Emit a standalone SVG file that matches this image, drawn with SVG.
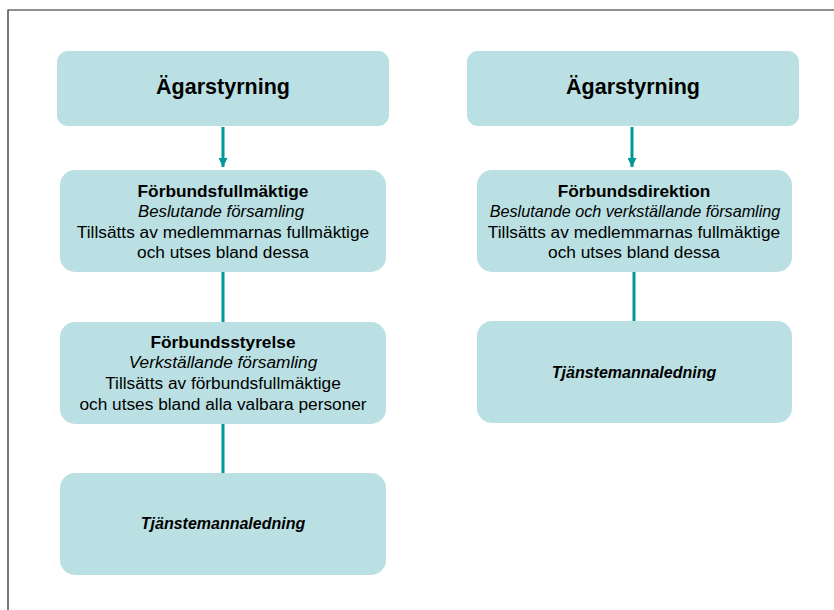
<svg xmlns="http://www.w3.org/2000/svg" width="834" height="610" viewBox="0 0 834 610">
  <style>
    .box { fill: #bbe0e3; }
    .t { font-family: "Liberation Sans", Arial, sans-serif; fill: #000; text-anchor: middle; }
    .h1 { font-size: 21.5px; font-weight: bold; }
    .b { font-size: 17.3px; }
    .tj { font-size: 16px; font-weight: bold; font-style: italic; }
    .bold { font-weight: bold; }
    .it { font-style: italic; }
    .con { stroke: #009999; stroke-width: 3; fill: none; }
  </style>
  <defs>
    <marker id="arr" viewBox="0 0 10 10" refX="10" refY="5" markerWidth="3" markerHeight="3" orient="auto" markerUnits="strokeWidth">
      <path d="M0,0 L10,5 L0,10 Z" fill="#009999"/>
    </marker>
  </defs>
  <rect width="834" height="610" fill="#fff"/>
  <!-- page frame -->
  <path d="M8,610 V10 H834" fill="none" stroke="#222" stroke-width="1.2"/>

  <g id="connectors">
    <line class="con" x1="223" y1="127" x2="223" y2="167" marker-end="url(#arr)"/>
    <line class="con" x1="223" y1="272" x2="223" y2="322"/>
    <line class="con" x1="223" y1="424" x2="223" y2="473"/>
    <line class="con" x1="632" y1="127" x2="632" y2="167" marker-end="url(#arr)"/>
    <line class="con" x1="634" y1="272" x2="634" y2="321"/>
  </g>

  <g id="agar-left">
    <rect class="box" x="57" y="51" width="332" height="75" rx="11"/>
    <text class="t h1" x="223" y="94">Ägarstyrning</text>
  </g>
  <g id="fullmaktige">
    <rect class="box" x="60" y="170" width="326" height="102" rx="15"/>
    <text class="t b bold" x="223" y="197">Förbundsfullmäktige</text>
    <text class="t b it" x="221" y="217" style="font-size:16.8px">Beslutande församling</text>
    <text class="t b" x="223" y="238">Tillsätts av medlemmarnas fullmäktige</text>
    <text class="t b" x="223" y="258">och utses bland dessa</text>
  </g>
  <g id="styrelse">
    <rect class="box" x="60" y="322" width="326" height="102" rx="15"/>
    <text class="t b bold" x="223" y="348">Förbundsstyrelse</text>
    <text class="t b it" x="223" y="368">Verkställande församling</text>
    <text class="t b" x="223" y="389">Tillsätts av förbundsfullmäktige</text>
    <text class="t b" x="223" y="410">och utses bland alla valbara personer</text>
  </g>
  <g id="tjm-left">
    <rect class="box" x="60" y="473" width="326" height="102" rx="15"/>
    <text class="t tj" x="223" y="529">Tjänstemannaledning</text>
  </g>

  <g id="agar-right">
    <rect class="box" x="467" y="51" width="332" height="75" rx="11"/>
    <text class="t h1" x="633" y="94">Ägarstyrning</text>
  </g>
  <g id="direktion">
    <rect class="box" x="477" y="170" width="315" height="102" rx="15"/>
    <text class="t b bold" x="634" y="197">Förbundsdirektion</text>
    <text class="t b it" x="635" y="217" style="font-size:16.2px">Beslutande och verkställande församling</text>
    <text class="t b" x="634" y="238">Tillsätts av medlemmarnas fullmäktige</text>
    <text class="t b" x="634" y="258">och utses bland dessa</text>
  </g>
  <g id="tjm-right">
    <rect class="box" x="477" y="321" width="315" height="102" rx="15"/>
    <text class="t tj" x="634" y="378">Tjänstemannaledning</text>
  </g>
</svg>
